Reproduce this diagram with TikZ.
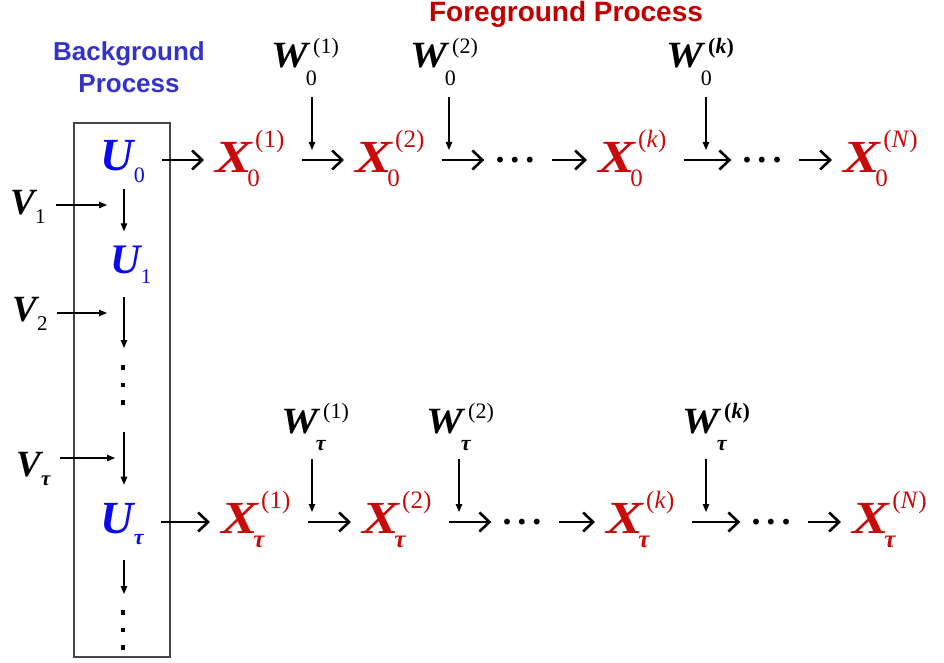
\documentclass[tikz,border=0pt]{standalone}
\usepackage{fontspec}
\usepackage{graphicx}
\setmainfont{Liberation Serif}
\newfontfamily\ars{Liberation Sans}
\usetikzlibrary{arrows.meta}
\definecolor{fgred}{RGB}{192,0,0}
\definecolor{xred}{RGB}{200,12,12}
\definecolor{bgblue}{RGB}{51,51,204}
\definecolor{ublue}{RGB}{10,10,235}
\definecolor{boxgray}{RGB}{70,70,70}
\newcommand\BI{\bfseries\itshape}
\newcommand\RMs{\mdseries\upshape}
\newcommand\fs[1]{\fontsize{#1}{#1}\selectfont}
% letter with sub and sup
\newcommand\XS[3]{\fs{46}\BI \scalebox{1.2}[1]{#1}\rlap{\kern-0.1em\lower0.32em\hbox{\fs{25}\RMs #2}}\kern0.07em\raise0.53em\hbox{\fs{25}\RMs #3}}
\newcommand\WS[3]{\fs{37}\BI \scalebox{1.12}[1]{#1}\rlap{\kern-0.06em\lower0.46em\hbox{\fs{22}\RMs #2}}\kern0.14em\raise0.4em\hbox{\fs{22}\RMs #3}}
% letter with sub only: size, letter, subsize, sub
\newcommand\SubS[4]{\fs{#1}\BI #2\kern0.01em\lower0.26em\hbox{\fs{#3}\RMs #4}}
\newcommand\tauB{{\bfseries\itshape τ}}
\newcommand\sqdot{\hbox{\rule{4.6pt}{4.6pt}}}
\newcommand\vdotstack{\vbox{\offinterlineskip\sqdot\kern12.9pt\sqdot\kern12.9pt\sqdot}}
\begin{document}
\begin{tikzpicture}[x=1pt,y=-1pt,
  sym/.style={inner sep=0pt, anchor=base west},
  xsym/.style={sym, text=xred},
  usym/.style={sym, text=ublue},
  wsym/.style={sym, text=black},
  hdots/.style={inner sep=0pt, font=\fs{36}\bfseries},
  vdts/.style={inner sep=0pt},
  big/.style={line width=2.6pt, -{Straight Barb[length=10pt,width=19pt]}, shorten <=17pt, shorten >=11pt},
  lightarrow/.style={line width=1.2pt, -{Triangle[length=8pt,width=6.5pt]}},
  title/.style={inner sep=0pt, font=\ars\bfseries\fontsize{26}{32}\selectfont}]
\useasboundingbox (0,0) rectangle (944,663);
% titles
\node[title, text=fgred, anchor=base, font=\ars\bfseries\fontsize{28}{32}\selectfont] (fgt) at (566,22) {Foreground Process};
\node[title, text=bgblue, align=center, anchor=north] (bgt) at (129,41) {Background\\Process};
% background box
\draw[boxgray, line width=1.3pt] (74,123) rectangle (170,657);
% helper coordinates
\coordinate (r0) at (0,160);
\coordinate (r1) at (0,522);
\coordinate (col) at (124,0);
% column nodes
\node[usym] (U0) at (100,171) {\SubS{46}{U}{22}{0}};
\node[usym] (U1) at (110,273) {\SubS{42}{U}{21}{1}};
\node[vdts] (vd1) at (123,385) {\vdotstack};
\node[usym] (Ut) at (100,533) {\SubS{46}{U}{22}{\tauB}};
\node[vdts] (vd2) at (123,630) {\vdotstack};
\node[wsym] (V1) at (10,214) {\SubS{37}{V}{21}{1}};
\node[wsym] (V2) at (12,321) {\SubS{37}{V}{21}{2}};
\node[wsym] (Vt) at (16,476) {\SubS{37}{V}{21}{\tauB}};
% top row
\node[xsym] (X01) at (215,172) {\XS{X}{0}{(1)}};
\node[xsym] (X02) at (355,172) {\XS{X}{0}{(2)}};
\node[hdots] (d01) at (515,160) {.\kern6pt.\kern6pt.};
\node[xsym] (X0k) at (598,172) {\XS{X}{0}{(\textit{k})}};
\node[hdots] (d02) at (762,160) {.\kern6pt.\kern6pt.};
\node[xsym] (X0N) at (843,172) {\XS{X}{0}{(\textit{N})}};
\node[wsym] (W01) at (271,68) {\WS{W}{0}{(1)}};
\node[wsym] (W02) at (410,68) {\WS{W}{0}{(2)}};
\node[wsym] (W0k) at (666,68) {\WS{W}{0}{\bfseries(\textit{k})}};
% bottom row
\node[xsym] (Xt1) at (221,533) {\XS{X}{\tauB}{(1)}};
\node[xsym] (Xt2) at (362,533) {\XS{X}{\tauB}{(2)}};
\node[hdots] (dt1) at (522,522) {.\kern6pt.\kern6pt.};
\node[xsym] (Xtk) at (606,533) {\XS{X}{\tauB}{(\textit{k})}};
\node[hdots] (dt2) at (771,522) {.\kern6pt.\kern6pt.};
\node[xsym] (XtN) at (852,533) {\XS{X}{\tauB}{(\textit{N})}};
\node[wsym] (Wt1) at (281,433) {\WS{W}{\tauB}{(1)}};
\node[wsym] (Wt2) at (426,433) {\WS{W}{\tauB}{(2)}};
\node[wsym] (Wtk) at (682,433) {\WS{W}{\tauB}{\bfseries(\textit{k})}};
% big arrows top
\draw[big] (U0.east |- r0) -- (X01.west |- r0);
\draw[big] (X01.east |- r0) -- (X02.west |- r0);
\draw[big] (X02.east |- r0) -- (d01.west |- r0);
\draw[big] (d01.east |- r0) -- (X0k.west |- r0);
\draw[big] (X0k.east |- r0) -- (d02.west |- r0);
\draw[big] (d02.east |- r0) -- (X0N.west |- r0);
% big arrows bottom
\draw[big] (Ut.east |- r1) -- (Xt1.west |- r1);
\draw[big] (Xt1.east |- r1) -- (Xt2.west |- r1);
\draw[big] (Xt2.east |- r1) -- (dt1.west |- r1);
\draw[big] (dt1.east |- r1) -- (Xtk.west |- r1);
\draw[big] (Xtk.east |- r1) -- (dt2.west |- r1);
\draw[big] (dt2.east |- r1) -- (XtN.west |- r1);
% W arrows
\coordinate (w01e) at (312,150);
\coordinate (w02e) at (449,150);
\coordinate (w0ke) at (706,150);
\coordinate (wt1e) at (312,512);
\coordinate (wt2e) at (459,512);
\coordinate (wtke) at (706,512);
\draw[lightarrow, shorten <=12pt] (w01e |- W01.south) -- (w01e);
\draw[lightarrow, shorten <=12pt] (w02e |- W02.south) -- (w02e);
\draw[lightarrow, shorten <=12pt] (w0ke |- W0k.south) -- (w0ke);
\draw[lightarrow, shorten <=9pt] (wt1e |- Wt1.south) -- (wt1e);
\draw[lightarrow, shorten <=9pt] (wt2e |- Wt2.south) -- (wt2e);
\draw[lightarrow, shorten <=9pt] (wtke |- Wtk.south) -- (wtke);
% column arrows
\draw[lightarrow, shorten <=6pt, shorten >=14pt] (col |- U0.south) -- (col |- U1.north);
\draw[lightarrow, shorten <=13pt, shorten >=17pt] (col |- U1.south) -- (col |- vd1.north);
\draw[lightarrow, shorten <=27pt, shorten >=18pt] (col |- vd1.south) -- (col |- Ut.north);
\draw[lightarrow, shorten <=15pt, shorten >=16pt] (col |- Ut.south) -- (col |- vd2.north);
% V arrows
\coordinate (v1e) at (107,205);
\coordinate (v2e) at (107,313);
\coordinate (vte) at (115,458);
\draw[lightarrow, shorten <=10pt] (V1.east |- v1e) -- (v1e);
\draw[lightarrow, shorten <=9pt] (V2.east |- v2e) -- (v2e);
\draw[lightarrow, shorten <=9pt] (Vt.east |- vte) -- (vte);
\end{tikzpicture}
\end{document}
